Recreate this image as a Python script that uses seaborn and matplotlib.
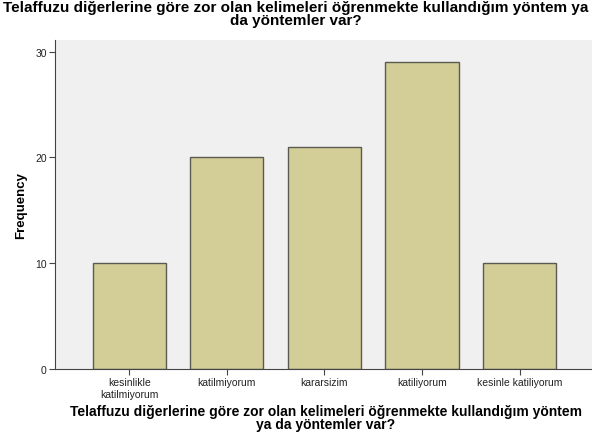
import matplotlib
matplotlib.use("Agg")
import pandas as pd
from matplotlib import pyplot as plt
import seaborn as sns

categories = ['kesinlikle\nkatilmiyorum', 'katilmiyorum', 'kararsizim', 'katiliyorum', 'kesinle katiliyorum']
frequency = [10, 20, 21, 29, 10]
title = 'Telaffuzu diğerlerine göre zor olan kelimeleri öğrenmekte kullandığım yöntem ya\nda yöntemler var?'
xlabel = 'Telaffuzu diğerlerine göre zor olan kelimeleri öğrenmekte kullandığım yöntem\nya da yöntemler var?'

df = pd.DataFrame({'answer': categories, 'count': frequency})

sns.set_style('white')
plt.rcParams['font.family'] = ['Liberation Sans', 'DejaVu Sans']
plt.rcParams['text.color'] = 'black'
plt.rcParams['axes.labelcolor'] = 'black'

fig = plt.figure(figsize=(5.92, 4.39), dpi=100)
ax = fig.add_axes([55 / 592, 1 - 370 / 439, 537 / 592, 329 / 439])
ax.set_facecolor('#f0f0f0')

sns.barplot(data=df, x='answer', y='count', ax=ax, color='#d3ce97',
            edgecolor='#5a5a52', linewidth=1.0, width=0.75, saturation=1)

ax.set_xlim(-0.76, 4.74)
ax.set_ylim(0, 31.1)
ax.set_yticks([0, 10, 20, 30])
ax.tick_params(axis='both', labelsize=7.5, colors='#444444', labelcolor='#222222',
               length=4, width=0.8, direction='out', left=True, bottom=True, pad=2)

for side in ['top', 'right']:
    ax.spines[side].set_visible(False)
ax.spines['left'].set_color('#444444')
ax.spines['bottom'].set_color('#444444')

ax.set_ylabel('Frequency', fontsize=9.5, fontweight='bold', labelpad=6)
ax.set_xlabel(xlabel, fontsize=10, fontweight='bold', labelpad=6, linespacing=0.9)
ax.xaxis.set_label_coords((326 - 55) / 537, -(405 - 370) / 329, transform=ax.transAxes)
ax.xaxis.label.set_verticalalignment('top')
fig.suptitle(title, fontsize=11, fontweight='bold', x=0.5, y=0.998, linespacing=0.9)

fig.savefig('out.png', dpi=100, facecolor='white')
